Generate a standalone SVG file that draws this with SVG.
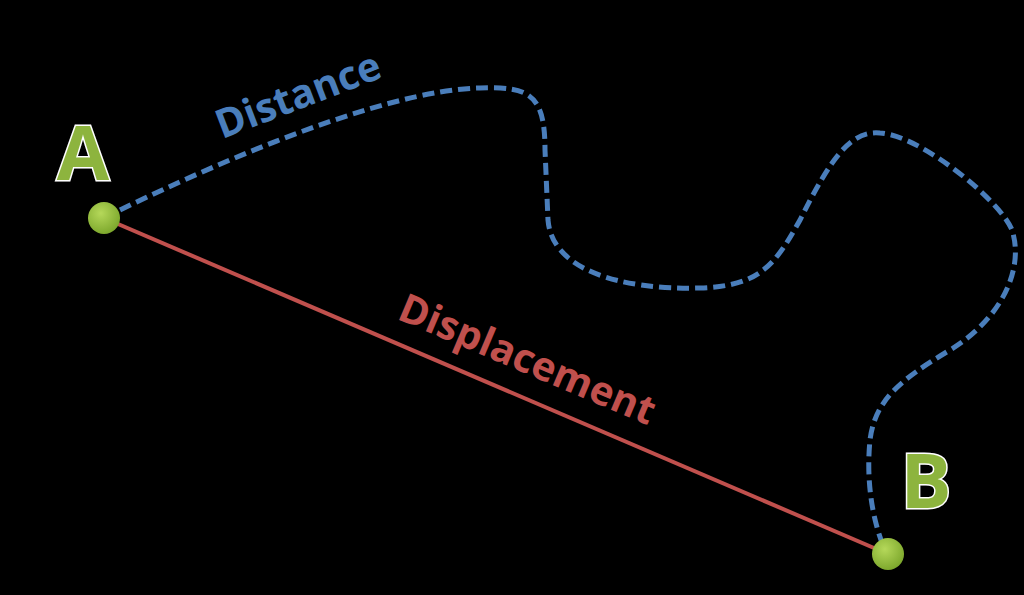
<svg xmlns="http://www.w3.org/2000/svg" width="1024" height="595" viewBox="0 0 1024 595">
<style>
.lbl{font-family:"Open Sans","Liberation Sans",sans-serif;font-weight:bold}
.pt{font-family:"Open Sans","Liberation Sans",sans-serif;font-weight:bold;font-size:76px;fill:#8db43e;stroke:#ffffff;stroke-width:3;paint-order:stroke}
</style>
<defs>
<radialGradient id="g" cx="0.4" cy="0.35" r="0.7"><stop offset="0" stop-color="#b5d85a"/><stop offset="1" stop-color="#7aa52a"/></radialGradient>
</defs>
<rect width="1024" height="595" fill="#000"/>
<g id="connectors">
<line x1="104" y1="218" x2="888" y2="554" stroke="#c0504d" stroke-width="4"/>
<path d="M104,218 C200,170 380,90 480,88 C530,86 545,95 545,150 L548,220 C552,270 620,290 700,288 C760,286 775,265 800,220 C830,160 850,130 880,133 C920,135 1000,200 1012,230 C1025,270 1000,320 950,350 C900,380 875,400 870,440 C866,480 872,520 885,550" fill="none" stroke="#4a7ebb" stroke-width="5" stroke-dasharray="12,6"/>
</g>
<g id="A"><circle cx="104" cy="218" r="16" fill="url(#g)"/><text class="pt" x="83" y="180" text-anchor="middle">A</text></g>
<g id="B"><circle cx="888" cy="554" r="16" fill="url(#g)"/><text class="pt" x="926" y="508" text-anchor="middle">B</text></g>
<text class="lbl" font-size="40" fill="#4a7ebb" text-anchor="middle" transform="translate(303,108) rotate(-21)">Distance</text>
<text class="lbl" font-size="40" fill="#c0504d" text-anchor="middle" transform="translate(522,372) rotate(23)">Displacement</text>
</svg>
